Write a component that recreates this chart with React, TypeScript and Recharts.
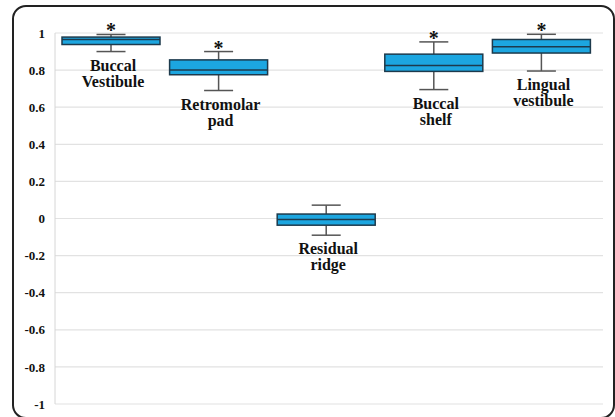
import { ComposedChart, Bar, XAxis, YAxis, CartesianGrid } from 'recharts'

// Box plot summary per region
const categories = ['Buccal Vestibule', 'Retromolar pad', 'Residual ridge', 'Buccal shelf', 'Lingual vestibule']
const labelLines = [
  ['Buccal', 'Vestibule'],
  ['Retromolar', 'pad'],
  ['Residual', 'ridge'],
  ['Buccal', 'shelf'],
  ['Lingual', 'vestibule'],
]
const whiskerHigh = [0.992, 0.9, 0.072, 0.952, 0.993]
const q3 = [0.978, 0.855, 0.024, 0.886, 0.965]
const median = [0.965, 0.8, -0.005, 0.825, 0.926]
const q1 = [0.938, 0.775, -0.036, 0.793, 0.892]
const whiskerLow = [0.9, 0.69, -0.09, 0.695, 0.795]
const significant = [true, true, false, true, true]
const yTicks = [-1, -0.8, -0.6, -0.4, -0.2, 0, 0.2, 0.4, 0.6, 0.8, 1]

const data = categories.map((name, i) => ({
  name,
  lines: labelLines[i],
  range: [whiskerLow[i], whiskerHigh[i]],
  high: whiskerHigh[i],
  q3: q3[i],
  median: median[i],
  q1: q1[i],
  low: whiskerLow[i],
  star: significant[i],
}))

const FONT = 'Liberation Serif, DejaVu Serif, serif'
const textStyle = { fontFamily: FONT, fontWeight: 700 }

function BoxShape(props: any) {
  const { x, y, width, height, payload } = props
  const top = Math.min(y, y + height)
  const bottom = Math.max(y, y + height)
  const span = payload.high - payload.low
  const toY = (v: number) => top + ((payload.high - v) / span) * (bottom - top)
  const cx = x + width / 2
  const cap = 29
  const yQ3 = toY(payload.q3)
  const yQ1 = toY(payload.q1)
  const yMed = toY(payload.median)
  return (
    <g>
      <line x1={cx} x2={cx} y1={top} y2={yQ3} stroke="#555" strokeWidth={1.5} />
      <line x1={cx} x2={cx} y1={yQ1} y2={bottom} stroke="#555" strokeWidth={1.5} />
      <line x1={cx - cap / 2} x2={cx + cap / 2} y1={top} y2={top} stroke="#555" strokeWidth={1.5} />
      <line x1={cx - cap / 2} x2={cx + cap / 2} y1={bottom} y2={bottom} stroke="#555" strokeWidth={1.5} />
      <rect x={x} y={yQ3} width={width} height={yQ1 - yQ3} fill="#1ca6e0" stroke="#1d3a4c" strokeWidth={1.5} />
      <line x1={x} x2={x + width} y1={yMed} y2={yMed} stroke="#1d3a4c" strokeWidth={1.5} />
      {payload.star && (
        <text x={cx} y={top + 3} textAnchor="middle" style={{ ...textStyle, fontSize: 20 }} fill="#111">
          *
        </text>
      )}
      {payload.lines.map((t: string, i: number) => (
        <text
          key={t}
          x={cx + 2}
          y={bottom + 19 + i * 16}
          textAnchor="middle"
          style={{ ...textStyle, fontSize: 16 }}
          fill="#111"
        >
          {t}
        </text>
      ))}
    </g>
  )
}

export default function App() {
  return (
    <div style={{ position: 'absolute', left: 0, top: 0, width: 615, height: 417, overflow: 'hidden', background: '#fff' }}>
      <div
        style={{
          position: 'absolute',
          left: 12,
          top: 5,
          width: 603,
          height: 414,
          boxSizing: 'border-box',
          border: '2px solid #222',
          borderRadius: 14,
        }}
      />
      <div style={{ position: 'absolute', left: 0, top: 0 }}>
        <ComposedChart width={615} height={417} data={data} margin={{ top: 33, right: 12, bottom: 13, left: 0 }}>
          <CartesianGrid horizontal vertical={false} stroke="#e2e2e2" strokeWidth={1.2} />
          <XAxis dataKey="name" hide padding={{ left: 2, right: 8 }} />
          <YAxis
            width={55}
            domain={[-1, 1]}
            ticks={yTicks}
            interval={0}
            tickFormatter={(v: number) => String(Math.round(v * 10) / 10)}
            axisLine={{ stroke: '#d6d6d6' }}
            tickLine={false}
            tickSize={0}
            tickMargin={10}
            tick={{ style: { ...textStyle, fontSize: 13 }, fill: '#111' }}
          />
          <Bar dataKey="range" barSize={98} shape={<BoxShape />} isAnimationActive={false} />
        </ComposedChart>
      </div>
    </div>
  )
}
